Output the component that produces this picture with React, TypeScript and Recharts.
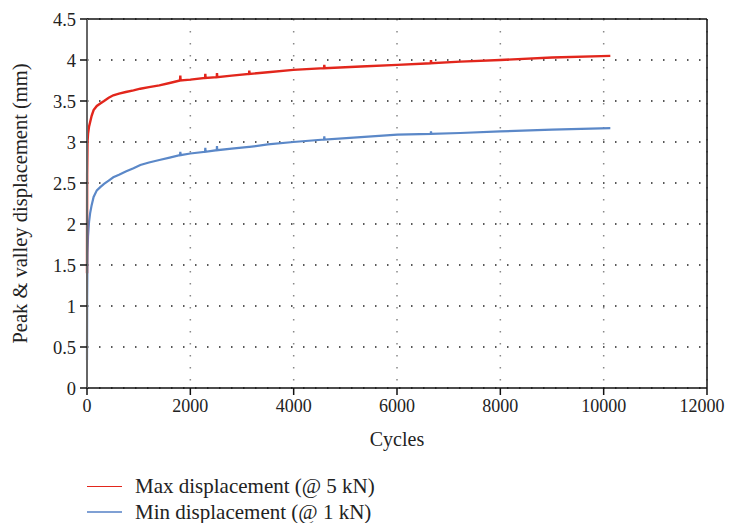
import React from "react";
import {
  CartesianGrid,
  Line,
  LineChart,
  ReferenceLine,
  XAxis,
  YAxis,
} from "recharts";

// cycles shared by both series (small spikes included)
const cycles = [
  0, 3, 10, 20, 40, 60, 90, 128, 190, 257, 330, 420, 509, 620, 750, 900, 1032,
  1200, 1400, 1600, 1800, 1806, 1812, 2000, 2285, 2290, 2295, 2511, 2516, 2521,
  2800, 3136, 3141, 3146, 3500, 3993, 4588, 4593, 4598, 5300, 6006, 6653, 6658,
  6663, 7226, 8000, 9000, 10129,
];

const maxDisp = [
  1.4, 2.6, 3.0, 3.1, 3.19, 3.24, 3.32, 3.39, 3.44, 3.47, 3.5, 3.54, 3.57, 3.59,
  3.61, 3.63, 3.65, 3.67, 3.69, 3.72, 3.75, 3.81, 3.75, 3.76, 3.78, 3.83, 3.78,
  3.79, 3.84, 3.79, 3.81, 3.83, 3.87, 3.83, 3.85, 3.88, 3.9, 3.94, 3.9, 3.92,
  3.94, 3.96, 4.0, 3.96, 3.98, 4.0, 4.03, 4.05,
];

const minDisp = [
  0.34, 1.1, 1.65, 1.85, 2.03, 2.13, 2.23, 2.33, 2.41, 2.45, 2.49, 2.53, 2.57,
  2.6, 2.64, 2.68, 2.72, 2.75, 2.78, 2.81, 2.84, 2.88, 2.84, 2.86, 2.88, 2.93,
  2.88, 2.9, 2.95, 2.9, 2.92, 2.94, 2.94, 2.94, 2.97, 3.0, 3.03, 3.07, 3.03,
  3.06, 3.09, 3.1, 3.13, 3.1, 3.11, 3.13, 3.15, 3.17,
];

const xTicks = [0, 2000, 4000, 6000, 8000, 10000, 12000];
const yTicks = [0, 0.5, 1, 1.5, 2, 2.5, 3, 3.5, 4, 4.5];

const seriesNames = ["Max displacement (@ 5 kN)", "Min displacement (@ 1 kN)"];

const RED = "#e2261c";
const BLUE = "#5b88c8";
const FONT = "'Liberation Serif', 'Times New Roman', serif";

const maxData = cycles.map((c, i) => ({ cycles: c, disp: maxDisp[i] }));
const minData = cycles.map((c, i) => ({ cycles: c, disp: minDisp[i] }));

const renderYLabel = (props: any) => {
  const vb = props.viewBox || {};
  const cx = 12;
  const cy = (vb.y ?? 11) + (vb.height ?? 369) / 2;
  return (
    <text
      x={cx}
      y={cy}
      transform={`rotate(-90, ${cx}, ${cy})`}
      textAnchor="middle"
      dominantBaseline="central"
      fontFamily={FONT}
      fontSize={20.5}
      fill="#222"
    >
      Peak &amp; valley displacement (mm)
    </text>
  );
};

// last label nudged in a little so it is not cut by the page edge
const renderXTick = (props: any) => {
  const { x, y, payload } = props;
  const last = payload.value === xTicks[xTicks.length - 1];
  return (
    <text
      x={last ? x - 5 : x}
      y={y}
      dy="0.71em"
      textAnchor="middle"
      fontFamily={FONT}
      fontSize={18}
      fill="#222"
    >
      {payload.value}
    </text>
  );
};

export default function App() {
  return (
    <div style={{ position: "relative", width: 725, height: 515, overflow: "hidden" }}>
      <LineChart
        width={725}
        height={450}
        margin={{ top: 11, right: 26, left: 0, bottom: 10 }}
      >
        <CartesianGrid
          horizontal={true}
          vertical={false}
          stroke="#222"
          strokeWidth={1.5}
          strokeDasharray="1.5 10.5"
        />
        <CartesianGrid
          horizontal={false}
          vertical={true}
          stroke="#888"
          strokeWidth={1.5}
          strokeDasharray="1.5 10.5"
        />
        <XAxis
          type="number"
          dataKey="cycles"
          domain={[0, 12000]}
          ticks={xTicks}
          interval={0}
          height={60}
          tickSize={7}
          tickMargin={4}
          stroke="#111"
          strokeWidth={1.5}
          tick={renderXTick}
          tickLine={{ stroke: "#111" }}
          label={{
            value: "Cycles",
            position: "insideBottom",
            offset: 2,
            fill: "#222",
            fontFamily: FONT,
            fontSize: 20,
          }}
        />
        <YAxis
          type="number"
          domain={[0, 4.5]}
          ticks={yTicks}
          interval={0}
          width={79}
          tickSize={7}
          tickMargin={4}
          stroke="#666"
          strokeWidth={2}
          tick={{ fill: "#222", fontFamily: FONT, fontSize: 18.5 }}
          tickLine={{ stroke: "#111", strokeWidth: 1.5 }}
          label={renderYLabel}
        />
        <ReferenceLine y={4.5} stroke="#111" strokeWidth={1.5} />
        <ReferenceLine x={12000} stroke="#111" strokeWidth={1.5} />
        <Line
          data={minData}
          dataKey="disp"
          type="linear"
          stroke={BLUE}
          strokeWidth={2.2}
          dot={false}
          isAnimationActive={false}
          name={seriesNames[1]}
        />
        <Line
          data={maxData}
          dataKey="disp"
          type="linear"
          stroke={RED}
          strokeWidth={2.4}
          dot={false}
          isAnimationActive={false}
          name={seriesNames[0]}
        />
      </LineChart>
      <div
        style={{
          position: "absolute",
          left: 79,
          top: 465,
          fontFamily: FONT,
          fontSize: 21,
          color: "#222",
        }}
      >
        {seriesNames.map((name, i) => (
          <div key={name} style={{ display: "flex", alignItems: "center", height: 26 }}>
            <span
              style={{
                display: "inline-block",
                width: 35,
                height: 0,
                borderTop: i === 0 ? `1.5px solid ${RED}` : "2.5px solid #7fa0d4",
                marginRight: 13,
              }}
            />
            <span>{name}</span>
          </div>
        ))}
      </div>
    </div>
  );
}
